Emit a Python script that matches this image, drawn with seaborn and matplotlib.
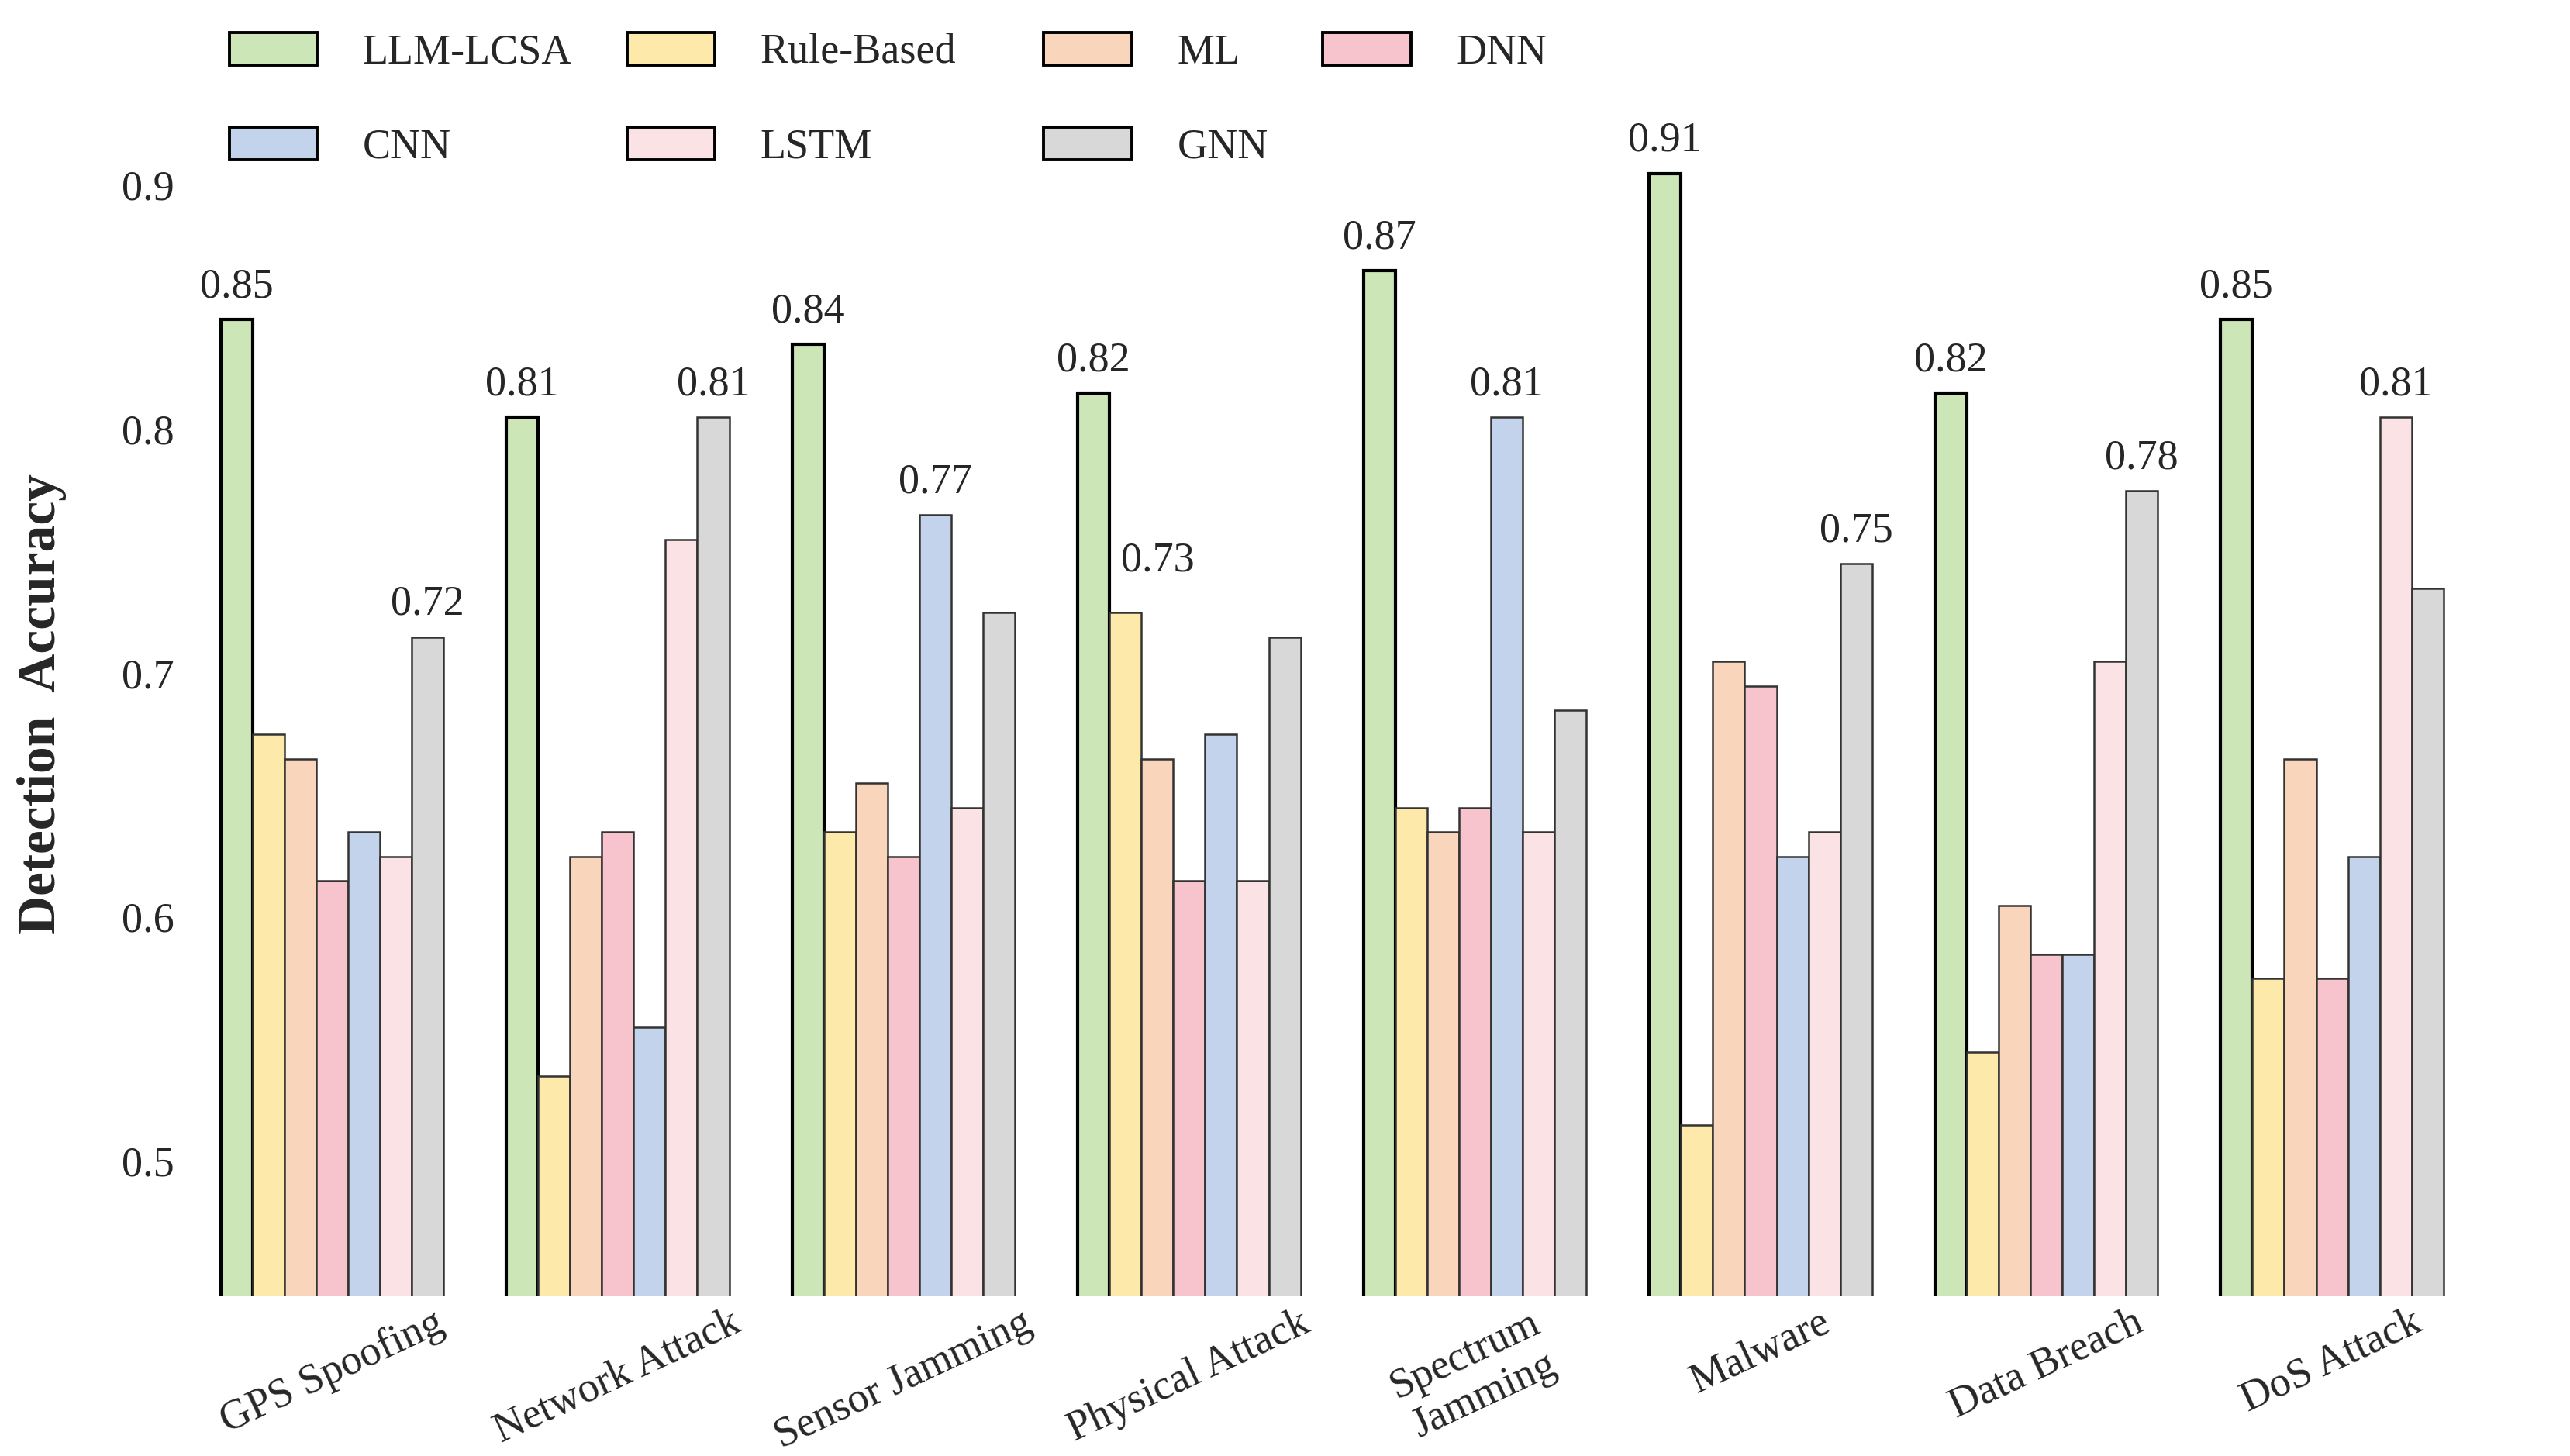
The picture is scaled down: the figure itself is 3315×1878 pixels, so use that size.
import numpy as np
import pandas as pd
import seaborn as sns
import matplotlib.pyplot as plt
from matplotlib.patches import Patch
from matplotlib.transforms import ScaledTranslation

attacks = ['GPS Spoofing', 'Network Attack', 'Sensor Jamming', 'Physical Attack',
           'Spectrum\nJamming', 'Malware', 'Data Breach', 'DoS Attack']
methods = ['LLM-LCSA', 'Rule-Based', 'ML', 'DNN', 'CNN', 'LSTM', 'GNN']
colors = ['#cde6b8', '#fde9a9', '#f8d5bb', '#f7c4cd', '#c4d3ec', '#fbe2e5', '#d8d8d8']

llm_lcsa = [0.85, 0.81, 0.84, 0.82, 0.87, 0.91, 0.82, 0.85]
rule_based = [0.68, 0.54, 0.64, 0.73, 0.65, 0.52, 0.55, 0.58]
ml = [0.67, 0.63, 0.66, 0.67, 0.64, 0.71, 0.61, 0.67]
dnn = [0.62, 0.64, 0.63, 0.62, 0.65, 0.70, 0.59, 0.58]
cnn = [0.64, 0.56, 0.77, 0.68, 0.81, 0.63, 0.59, 0.63]
lstm = [0.63, 0.76, 0.65, 0.62, 0.64, 0.64, 0.71, 0.81]
gnn = [0.72, 0.81, 0.73, 0.72, 0.69, 0.75, 0.78, 0.74]

series = [llm_lcsa, rule_based, ml, dnn, cnn, lstm, gnn]
df = pd.DataFrame({
    'attack': np.tile(attacks, len(methods)),
    'method': np.repeat(methods, len(attacks)),
    'acc': np.concatenate(series),
})

sns.set_style('white')
plt.rcParams['font.family'] = ['Liberation Serif', 'DejaVu Serif']

fig = plt.figure(figsize=(16.575, 9.39), dpi=200)
ax = fig.add_axes([0.0736, 0.110, 0.8894, 0.838])
sns.barplot(data=df, x='attack', y='acc', hue='method', order=attacks,
            hue_order=methods, palette=colors, width=0.78, saturation=1,
            edgecolor='#333333', linewidth=0.9, legend=False, ax=ax)

# thick black outline for the proposed method
for bar in ax.containers[0]:
    bar.set_edgecolor('black')
    bar.set_linewidth(1.5)

# label LLM-LCSA and the best baseline in each group
base = np.array(series[1:])
best = base.argmax(axis=0) + 1
for j in range(len(attacks)):
    for i in (0, best[j]):
        bar = ax.containers[i][j]
        # nudge the label when it would sit right next to the LLM-LCSA one
        off = (15, 15) if i == 1 else (0, 6)
        ax.annotate(f'{series[i][j]:.2f}',
                    (bar.get_x() + bar.get_width() / 2, bar.get_height()),
                    xytext=off, textcoords='offset points',
                    ha='center', va='bottom', fontsize=19.5)

ax.set_ylim(0.45, 0.95)
ax.set_yticks([0.5, 0.6, 0.7, 0.8, 0.9])
ax.set_yticklabels(['0.5', '0.6', '0.7', '0.8', '0.9'])
ax.tick_params(axis='both', length=0, labelsize=19.5)
ax.tick_params(axis='y', pad=7)
for lab in ax.get_yticklabels():
    lab.set_transform(lab.get_transform() + ScaledTranslation(0, 6 / 72, fig.dpi_scale_trans))
plt.setp(ax.get_xticklabels(), rotation=25, ha='center')
ax.set_xlabel('')
ax.set_ylabel('Detection  Accuracy', fontsize=25, fontweight='bold')
ax.yaxis.set_label_coords(-0.0536, 0.485)
sns.despine(ax=ax, left=True, bottom=True)

handles = [Patch(facecolor=c, edgecolor='black', linewidth=1.4, label=m)
           for m, c in zip(methods, colors)]
leg_kw = dict(ncol=2, loc='upper left', frameon=False, fontsize=19.5,
              borderpad=0, handlelength=2.1, handleheight=0.8,
              handletextpad=1.08, columnspacing=1.3, labelspacing=1.3)
# two legend blocks so the column widths follow the reference
left = [0, 4, 1, 5]
right = [2, 6, 3]
leg1 = fig.legend([handles[k] for k in left], [methods[k] for k in left],
                  bbox_to_anchor=(0.081, 0.992), **leg_kw)
fig.legend([handles[k] for k in right], [methods[k] for k in right],
           bbox_to_anchor=(0.398, 0.992), **leg_kw)

fig.savefig('out.png', dpi=200)
